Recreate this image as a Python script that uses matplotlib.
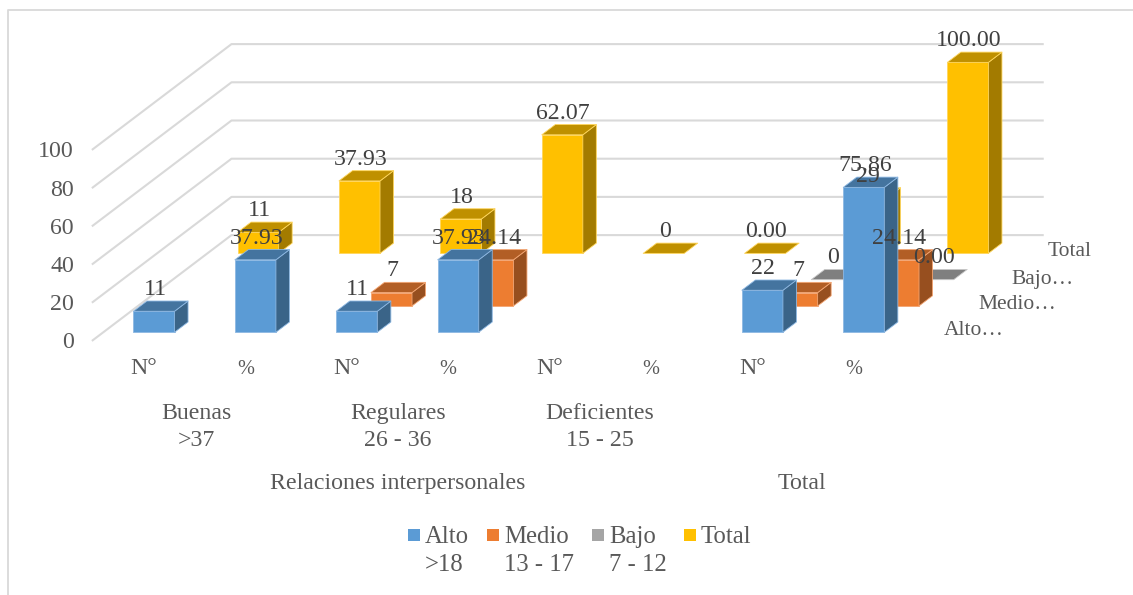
# 3D-style clustered columns drawn on a flat axes with an oblique depth shear

import matplotlib
matplotlib.use("Agg")
import matplotlib.pyplot as plt
from matplotlib.lines import Line2D
from matplotlib.patches import Polygon, Rectangle
from matplotlib.transforms import Affine2D

plt.rcParams["font.family"] = ["Liberation Serif", "DejaVu Serif"]

bar_labels = ["N°", "%", "N°", "%", "N°", "%", "N°", "%"]
groups = ["Buenas\n>37", "Regulares\n26 - 36", "Deficientes\n15 - 25"]
group_centers = [196, 398, 600]
sections = ["Relaciones interpersonales", "Total"]
section_centers = [398, 802]

# None means the cell is empty, so nothing is drawn for it
alto = [11, 37.93, 11, 37.93, None, None, 22, 75.86]
medio = [None, None, 7, 24.14, None, None, 7, 24.14]
bajo = [None, None, None, None, None, None, 0, 0.00]
total = [11, 37.93, 18, 62.07, 0, 0.00, 29, 100.00]

alto_txt = ["11", "37.93", "11", "37.93", None, None, "22", "75.86"]
medio_txt = [None, None, "7", "24.14", None, None, "7", "24.14"]
bajo_txt = [None, None, None, None, None, None, "0", "0.00"]
total_txt = ["11", "37.93", "18", "62.07", "0", "0.00", "29", "100.00"]

yticks = [0, 20, 40, 60, 80, 100]

W, H = 1133, 595
CAT_PX = 101.4      # one category along x
VAL_PX = 1.91       # one value unit along y
X0, Y0 = 92.7, 340.3
STEP_X, STEP_Y = 34.7, 26.3   # one series back in depth
BAR_W = 0.405
BAR_D = 0.39        # bar depth as share of a series slot

FONT = 17.2
GRID = "#D9D9D9"
TICK = "#595959"
LABEL = "#404040"

series = [
    ("front", alto, alto_txt, "#5B9BD5", "#44749F", "#3A6488", "#8DB8E3"),
    ("medio", medio, medio_txt, "#ED7D31", "#B25E25", "#974F1F", "#F3A572"),
    ("bajo", bajo, bajo_txt, "#A5A5A5", "#7F7F7F", "#6E6E6E", "#C9C9C9"),
    ("total", total, total_txt, "#FFC000", "#BF9000", "#A37B00", "#FFD65C"),
]


def proj(cat, depth, val):
    # oblique projection: going back shifts right and up
    return (cat + depth * STEP_X / CAT_PX, val + depth * STEP_Y / VAL_PX)


def draw_bar(ax, cat, slot, val, front, top, side, edge):
    d0 = slot + (1 - BAR_D) / 2
    d1 = d0 + BAR_D
    x0 = cat + (1 - BAR_W) / 2
    x1 = x0 + BAR_W
    style = dict(edgecolor=edge, linewidth=0.6, joinstyle="round")
    if val > 0:
        ax.add_patch(Polygon([proj(x0, d0, 0), proj(x1, d0, 0), proj(x1, d0, val), proj(x0, d0, val)],
                             facecolor=front, **style))
        ax.add_patch(Polygon([proj(x1, d0, 0), proj(x1, d1, 0), proj(x1, d1, val), proj(x1, d0, val)],
                             facecolor=side, **style))
    ax.add_patch(Polygon([proj(x0, d0, val), proj(x1, d0, val), proj(x1, d1, val), proj(x0, d1, val)],
                         facecolor=top, **style))


fig = plt.figure(figsize=(W / 100, H / 100), dpi=100)
ax = fig.add_axes([0, 0, 1, 1])
ax.set_xlim(-X0 / CAT_PX, (W - X0) / CAT_PX)
ax.set_ylim((Y0 - H) / VAL_PX, Y0 / VAL_PX)
ax.axis("off")

# pixel positions for the layout text, origin top left
px = Affine2D().scale(1 / W, -1 / H).translate(0, 1) + fig.transFigure

# chart frame, only the top and left edges fall inside the canvas
fig.add_artist(Line2D([7.5, 7.5, W], [H, 9.5, 9.5], transform=px, color=GRID, linewidth=1.3))

for v in yticks:
    pts = [proj(0, 0, v), proj(0, 4, v), proj(8, 4, v)]
    ax.plot([p[0] for p in pts], [p[1] for p in pts], color=GRID, lw=1.5, zorder=1)
    ax.text((74 - X0) / CAT_PX, v, str(v), ha="right", va="center_baseline",
            fontsize=FONT, color=TICK)

# back series first so the nearer columns cover them
for slot in range(3, -1, -1):
    name, vals, txt, front, top, side, edge = series[slot]
    for i, v in enumerate(vals):
        if v is not None:
            draw_bar(ax, i, slot, v, front, top, side, edge)

for slot, (name, vals, txt, front, top, side, edge) in enumerate(series):
    for i, v in enumerate(vals):
        if v is not None:
            d1 = slot + (1 - BAR_D) / 2 + BAR_D
            xp, yp = proj(i + 0.5, d1, v)
            # the column's front centre, not its back edge
            xp -= (BAR_D * STEP_X - 1) / CAT_PX
            ax.text(xp, yp + 14 / VAL_PX, txt[i], ha="center", va="center_baseline",
                    fontsize=FONT, color=LABEL, zorder=20)

for i, lab in enumerate(bar_labels):
    # the percent sign sets smaller than the N° beside it
    ax.text(i + 0.5 + 0.6 / CAT_PX, (Y0 - 373.5) / VAL_PX, lab, ha="center", va="baseline",
            fontsize=FONT if lab == "N°" else 14.6, color=TICK)

for c, lab in zip(group_centers, groups):
    ax.text(c, 427, lab, transform=px, ha="center", va="center", fontsize=FONT,
            color=TICK, linespacing=1.43)
for c, lab in zip(section_centers, sections):
    ax.text(c, 481, lab, transform=px, ha="center", va="center_baseline", fontsize=FONT, color=TICK)

# depth axis names
depth_names = ["Alto…", "Medio…", "Bajo…", "Total"]
depth_pos = [(974, 328), (1017, 302), (1043, 277), (1070, 249)]
for lab, (x, y) in zip(depth_names, depth_pos):
    ax.text(x, y, lab, transform=px, ha="center", va="center_baseline", fontsize=15.5, color=TICK)

legend_names = ["Alto\n>18", "Medio\n13 - 17", "Bajo\n7 - 12", "Total"]
legend_colors = ["#5B9BD5", "#ED7D31", "#A5A5A5", "#FFC000"]
legend_x = [408, 487, 592, 684]
for lab, col, x in zip(legend_names, legend_colors, legend_x):
    fig.add_artist(Rectangle((x, 529), 12, 12, transform=px, facecolor=col, edgecolor="none"))
    ax.text(x + 17, 526, lab, transform=px, ha="left", va="top", fontsize=17.8,
            color=TICK, linespacing=1.35)

fig.savefig("out.png", dpi=100)
